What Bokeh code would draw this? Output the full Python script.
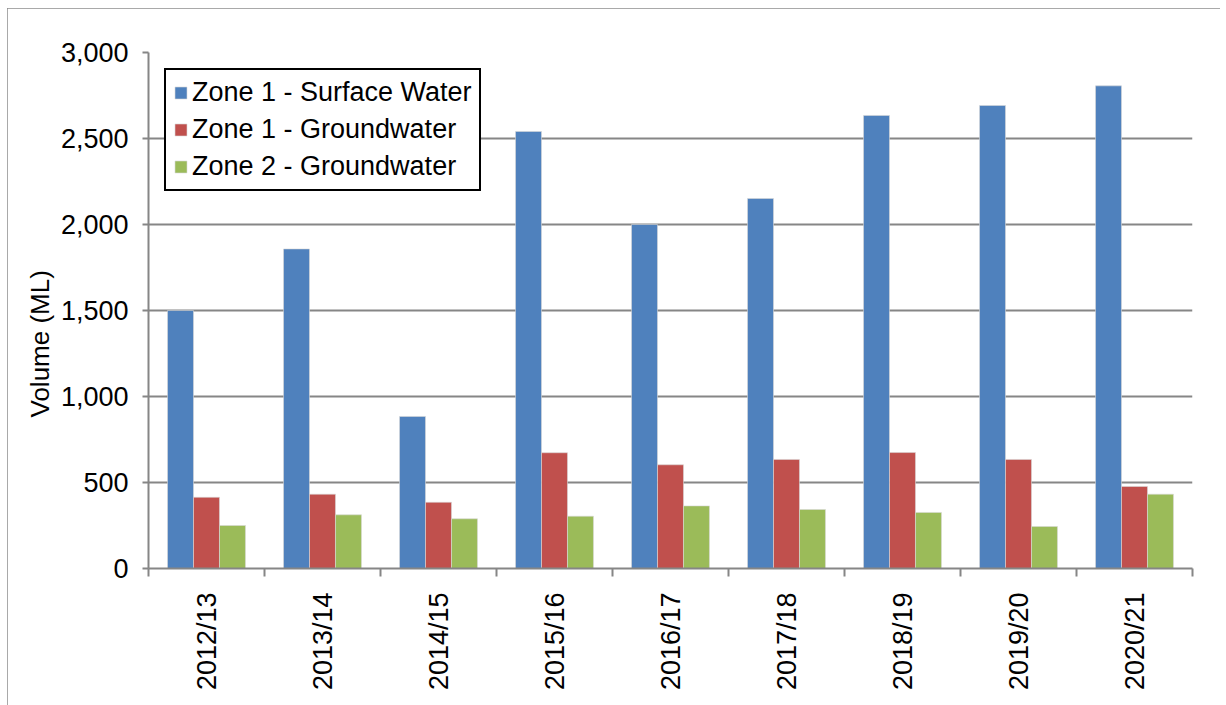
import numpy as np
from bokeh.plotting import figure
from bokeh.models import (Range1d, FixedTicker, NumeralTickFormatter, ColumnDataSource,
                          Legend, LegendItem, Title)
from bokeh.transform import dodge
from bokeh.embed import file_html
from bokeh.resources import INLINE

# ---- data ----
years = ["2012/13", "2013/14", "2014/15", "2015/16", "2016/17",
         "2017/18", "2018/19", "2019/20", "2020/21"]
zone1_surface = [1500, 1858, 884, 2541, 2000, 2151, 2634, 2692, 2806]
zone1_ground = [414, 432, 385, 673, 603, 634, 674, 634, 477]
zone2_ground = [250, 312, 289, 304, 364, 343, 326, 244, 432]
series_names = ["Zone 1 - Surface Water", "Zone 1 - Groundwater", "Zone 2 - Groundwater"]
y_ticks = [0, 500, 1000, 1500, 2000, 2500, 3000]
y_title = "Volume (ML)"

colors = ["#4F81BD", "#C0504D", "#9BBB59"]
FONT = "Liberation Sans"
GRAY = "#868686"

pos = list(np.arange(len(years)) + 0.5)
src = ColumnDataSource(dict(x=pos, s1=zone1_surface, s2=zone1_ground, s3=zone2_ground))

p = figure(width=1213, height=697, output_backend="svg", toolbar_location=None,
           x_range=Range1d(0, len(years)), y_range=Range1d(0, 3000),
           min_border_left=141, min_border_top=44, min_border_right=28, min_border_bottom=137)
p.outline_line_color = None
p.styles = {"outline": "2px solid #8c8c8c", "outline-offset": "-2px",
            "margin-left": "7px", "margin-top": "8px"}

bw = 0.224
renderers = []
for off, col, c in zip([-bw, 0, bw], ["s1", "s2", "s3"], colors):
    r = p.vbar(x=dodge("x", off, range=p.x_range), top=col, width=bw, bottom=0, source=src,
               fill_color=c, line_color="#d8d8d8", line_width=0.6)
    renderers.append(r)

# axes
p.xaxis.ticker = FixedTicker(ticks=pos, minor_ticks=list(range(len(years) + 1)))
p.xaxis.major_label_overrides = {float(t): y for t, y in zip(pos, years)}
p.xaxis.major_tick_out = 0
p.xaxis.major_tick_in = 0
p.xaxis.minor_tick_out = 8
p.xaxis.minor_tick_in = 0
p.xaxis.minor_tick_line_color = GRAY
p.xaxis.minor_tick_line_width = 2
p.xaxis.major_label_orientation = np.pi / 2
p.xaxis.major_label_standoff = 16

p.yaxis.ticker = FixedTicker(ticks=y_ticks)
p.yaxis.formatter = NumeralTickFormatter(format="0,0")
p.yaxis.major_tick_out = 6
p.yaxis.major_tick_in = 0
p.yaxis.minor_tick_out = 0
p.yaxis.minor_tick_in = 0
p.yaxis.major_label_standoff = 14

for ax in (p.xaxis, p.yaxis):
    ax.axis_line_color = GRAY
    ax.axis_line_width = 2
    ax.major_tick_line_color = GRAY
    ax.major_tick_line_width = 2
    ax.major_label_text_font = FONT
    ax.major_label_text_font_size = "27px"
    ax.major_label_text_color = "#000000"

# y-axis title (placed lower than centre, as in the original)
p.add_layout(Title(text=y_title, align="left", offset=151, standoff=5,
                   text_font=FONT, text_font_size="26px", text_font_style="normal",
                   text_color="#000000"), "left")

p.xgrid.visible = False
p.ygrid.ticker = FixedTicker(ticks=y_ticks)
p.ygrid.grid_line_color = GRAY
p.ygrid.grid_line_width = 1.8

# legend
legend = Legend(items=[LegendItem(label=n, renderers=[r]) for n, r in zip(series_names, renderers)],
                location="top_left")
legend.margin = 16
legend.padding = 7
legend.spacing = 6
legend.glyph_width = 15
legend.glyph_height = 15
legend.label_standoff = 4
legend.label_text_font = FONT
legend.label_text_font_size = "27px"
legend.label_text_color = "#000000"
legend.border_line_color = "#000000"
legend.border_line_alpha = 1.0
legend.border_line_width = 2
legend.background_fill_alpha = 1.0
p.add_layout(legend)

open("out.html", "w").write(file_html(p, INLINE))
